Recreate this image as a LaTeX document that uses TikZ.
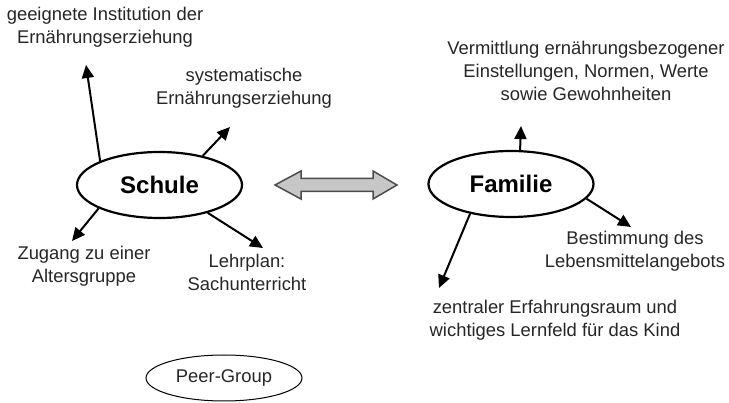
\documentclass[tikz,border=0pt]{standalone}
\usepackage{fontspec}
\setmainfont{Liberation Sans}
\usetikzlibrary{shapes.geometric,arrows.meta}
\begin{document}
\begin{tikzpicture}[x=1pt,y=-1pt,
  lbl/.style={font=\fontsize{18.4}{23}\selectfont, align=center, text=black!85, inner sep=0pt},
  big/.style={ellipse, draw, line width=2.2pt, minimum width=165pt, minimum height=66pt, inner sep=0pt, font=\fontsize{24}{28}\selectfont\bfseries},
  small/.style={ellipse, draw, line width=1pt, minimum width=156pt, minimum height=46pt, inner sep=0pt, font=\fontsize{18.4}{23}\selectfont, text=black!85},
  arr/.style={line width=2pt, -{Triangle[length=13pt,width=12pt]}},
  dbl/.style={fill=black!22, draw=black!70, line width=1.5pt, line join=miter}]
\useasboundingbox (0,0) rectangle (729,403);

% main ellipses
\node[big] (schule) at (159.5,185) {Schule};
\node[big] (familie) at (511,184) {Familie};
\node[small] (peer) at (224,378) {Peer-Group};

% double arrow
\draw[dbl] (275,185) -- (301,171) -- (301,178.5) -- (373,178.5) -- (373,171) -- (397,185)
  -- (373,199) -- (373,191.5) -- (301,191.5) -- (301,199) -- cycle;

% labels
\node[lbl] (l1) at (105,27) {geeignete Institution der\\Ernährungserziehung};
\node[lbl] (l2) at (244,88) {systematische\\Ernährungserziehung};
\node[lbl] (l3) at (84,266) {Zugang zu einer\\Altersgruppe};
\node[lbl] (l4) at (247,272) {Lehrplan:\\Sachunterricht};
\node[lbl] (l5) at (586,71) {Vermittlung ernährungsbezogener\\Einstellungen, Normen, Werte\\sowie Gewohnheiten};
\node[lbl] (l6) at (635,251) {Bestimmung des\\Lebensmittelangebots};
\node[lbl] (l7) at (555,320) {zentraler Erfahrungsraum und\\wichtiges Lernfeld für das Kind};

% arrow tips
\coordinate (t1) at (86,65);
\coordinate (t2) at (230,127);
\coordinate (t3) at (72,241);
\coordinate (t4) at (263,248);
\coordinate (t5) at (521,126);
\coordinate (t6) at (631,227);
\coordinate (t7) at (439,288);

\draw[arr] (schule.158) -- (t1);
\draw[arr] (schule.34) -- (t2);
\draw[arr] (schule.201) -- (t3);
\draw[arr] (schule.330) -- (t4);
\draw[arr] (familie.75) -- (t5);
\draw[arr] (familie.349) -- (t6);
\draw[arr] (familie.216) -- (t7);
\end{tikzpicture}
\end{document}
